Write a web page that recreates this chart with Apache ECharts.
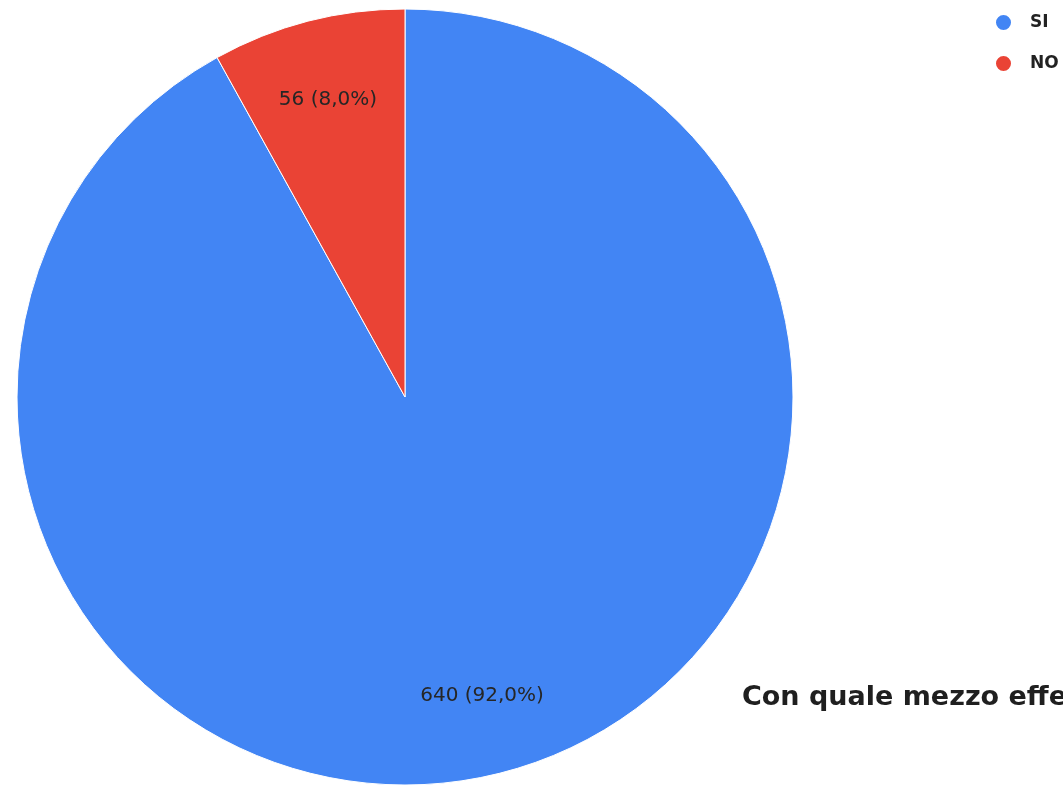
<!DOCTYPE html>
<html>
<head>
<meta charset="utf-8">
<script src="https://cdn.jsdelivr.net/npm/echarts@6/dist/echarts.min.js"></script>
<style>
html,body{margin:0;padding:0;background:#fff;}
#c{width:1063px;height:786px;}
</style>
</head>
<body>
<div id="c"></div>
<script>
const categories = ['SI', 'NO'];
const values = [640, 56];
const percentLabels = ['92,0%', '8,0%'];
const colors = ['#4285F4', '#EA4335'];
const titleText = 'Con quale mezzo effe';

const chart = echarts.init(document.getElementById('c'));
const data = categories.map((c, i) => ({ name: c, value: values[i], itemStyle: { color: colors[i] } }));
const labelData = categories.map((c, i) => ({
  name: c, value: values[i],
  label: { formatter: values[i] + ' (' + percentLabels[i] + ')' }
}));

chart.setOption({
  animation: false,
  title: {
    text: titleText,
    left: 737, top: 679,
    textStyle: { fontFamily: '"DejaVu Sans", sans-serif', fontSize: 27, fontWeight: 'bold', color: '#1f1f1f' }
  },
  legend: {
    orient: 'vertical',
    left: 994, top: 13,
    icon: 'circle',
    itemWidth: 17, itemHeight: 17,
    itemGap: 22,
    padding: 0,
    data: categories,
    textStyle: { fontFamily: '"DejaVu Sans", sans-serif', fontSize: 17, lineHeight: 17, fontWeight: 'bold', color: '#222', padding: [0, 0, 0, 13] }
  },
  series: [
    {
      type: 'pie',
      center: [405, 397],
      radius: [0, 388],
      startAngle: 90,
      clockwise: true,
      label: { show: false },
      labelLine: { show: false },
      itemStyle: { borderColor: '#fff', borderWidth: 1 },
      emphasis: { disabled: true },
      data: data
    },
    {
      type: 'pie',
      center: [405, 398],
      radius: [222, 388],
      startAngle: 90,
      clockwise: true,
      silent: true,
      itemStyle: { color: 'rgba(0,0,0,0)' },
      label: {
        show: true, position: 'inside',
        fontFamily: '"DejaVu Sans", sans-serif', fontSize: 20, color: '#262626'
      },
      labelLine: { show: false },
      emphasis: { disabled: true },
      legendHoverLink: false,
      data: labelData
    }
  ]
});
</script>
</body>
</html>
